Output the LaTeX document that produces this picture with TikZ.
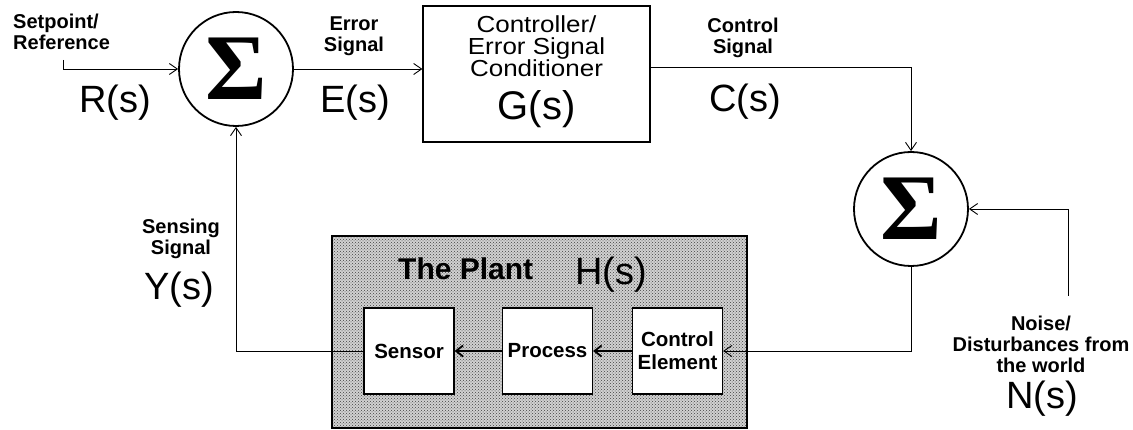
\documentclass[tikz,border=0pt]{standalone}
\usepackage{fontspec}
\setmainfont{Liberation Sans}
\newfontfamily\sigfont{Liberation Serif}
\newfontfamily\gfont[FakeStretch=1.12]{Liberation Sans}
\usetikzlibrary{arrows.meta,patterns,calc}
\begin{document}
\lineskiplimit=-50pt\relax
\begin{tikzpicture}[x=1pt,y=-1pt,
  lbl/.style={font=\fontsize{20}{21}\selectfont\bfseries, align=center, inner sep=0, anchor=north},
  big/.style={font=\fontsize{38}{40}\selectfont, inner sep=0, anchor=base},
  sumnode/.style={circle, draw, line width=1.8pt, minimum size=114pt, inner sep=0, font=\fontsize{94}{94}\selectfont\sigfont\bfseries},
  wire/.style={line width=0.9pt},
  arr/.style={wire, -{Straight Barb[length=8pt,width=11pt]}},
  arrthick/.style={line width=1.8pt, -{Straight Barb[length=7pt,width=11pt]}},
  blk/.style={draw, line width=1.2pt, fill=white, minimum width=90pt, minimum height=86pt, inner sep=0, align=center,
    font=\fontsize{20.5}{23}\selectfont\bfseries},
  plantbox/.style={draw, line width=2.6pt, preaction={fill=black!18}, pattern=crosshatch dots, pattern color=black!75,
    minimum width=415pt, minimum height=192pt, inner sep=0},
  ctrlbox/.style={draw, line width=1.2pt, minimum width=227pt, minimum height=136pt, inner sep=0}
]
\useasboundingbox (0,0) rectangle (1133,430);
\fill[white] (0,0) rectangle (1133,430);

% summing junctions
\node[sumnode] (s1) at (236,69) {Σ};
\node[sumnode] (s2) at (911,209) {Σ};

% controller
\node[ctrlbox] (G) at (536.5,74) {};
\node[font=\gfont\fontsize{23.2}{22}\selectfont, align=center, inner sep=0, anchor=north] (gt) at (536.5,15) {Controller/\\Error Signal\\Conditioner};
\node[big, font=\fontsize{40}{40}\selectfont] (gs) at (536.5,120) {G(s)};

% plant
\node[plantbox] (plant) at (539.5,332) {};
\node[font=\fontsize{30}{30}\selectfont\bfseries, anchor=base west, inner sep=0] (tpl) at (398,280) {The Plant};
\node[big] (hs) at (611,285) {H(s)};
\node[blk] (se) at (409,351) {Sensor};
\node[blk] (pr) at (547.5,351) {Process};
\node[blk] (ce) at (677.5,351) {Control\\Element};

% labels
\node[lbl, anchor=north west, align=left] (tsp) at (13,14) {Setpoint/\\Reference};
\node[big] (rs) at (115,113) {R(s)};
\node[lbl] (tes) at (354,17) {Error\\Signal};
\node[big] (es) at (355,113) {E(s)};
\node[lbl] (tcs) at (743,18) {Control\\Signal};
\node[big] (cs) at (745,112) {C(s)};
\node[lbl] (tss) at (181,219) {Sensing\\Signal};
\node[big] (ys) at (179,300) {Y(s)};
\node[lbl] (tns) at (1041,316) {Noise/\\Disturbances from\\the world};
\node[big] (ns) at (1042,408) {N(s)};

% connectors
\coordinate (rin) at (63,60);
\coordinate (nin) at (1068,296);
\draw[arr] (rin) |- (s1.west);
\draw[arr] (s1.east) -- (s1.east -| G.west);
\draw[arr] ($(G.east)+(0,-7)$) -| (s2.north);
\draw[arr] (nin) |- (s2.east);
\draw[arr] (s2.south) |- (ce.east);
\draw[arrthick] (ce.west) -- (pr.east);
\draw[arrthick] (pr.west) -- (se.east);
\draw[arr] (se.west) -| (s1.south);
\end{tikzpicture}
\end{document}
